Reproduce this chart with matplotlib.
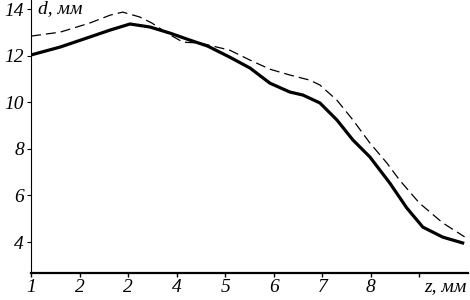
import matplotlib
matplotlib.use("Agg")
import matplotlib.pyplot as plt

# Data
z_solid = [1.00, 1.60, 2.21, 2.63, 3.04, 3.45, 3.86, 4.27, 4.64, 5.09, 5.51, 5.92,
           6.33, 6.60, 6.95, 7.30, 7.63, 7.98, 8.39, 8.74, 9.07, 9.48, 9.89]
d_solid = [12.03, 12.37, 12.80, 13.10, 13.36, 13.23, 12.97, 12.67, 12.41, 11.94, 11.47, 10.82,
           10.44, 10.31, 9.97, 9.24, 8.38, 7.65, 6.53, 5.46, 4.64, 4.21, 3.96]

z_dashed = [1.00, 1.60, 2.21, 2.63, 2.89, 3.24, 3.49, 3.80, 4.13, 4.48, 5.09, 5.51, 5.92,
            6.33, 6.74, 6.95, 7.30, 7.63, 7.98, 8.33, 8.59, 9.00, 9.48, 9.93]
d_dashed = [12.84, 13.01, 13.40, 13.74, 13.87, 13.66, 13.40, 12.97, 12.58, 12.54, 12.24, 11.81, 11.42,
            11.17, 10.95, 10.74, 10.09, 9.24, 8.25, 7.39, 6.66, 5.67, 4.82, 4.22]

x_ticks = [1, 2, 3, 4, 5, 6, 7, 8, 9]
x_tick_labels = ["1", "2", "2", "4", "5", "6", "7", "8", ""]
y_ticks = [4, 6, 8, 10, 12, 14]
y_tick_labels = ["4", "6", "8", "10", "12", "14"]

font = dict(family="Liberation Serif", style="italic", size=14)

fig = plt.figure(figsize=(4.7, 3.0), dpi=100)
ax = fig.add_axes([31 / 470, 27 / 300, 437 / 470, 273 / 300])

ax.plot(z_solid, d_solid, color="black", lw=2.3, solid_joinstyle="round")
ax.plot(z_dashed, d_dashed, color="black", lw=0.9, dashes=(8, 4))

ax.set_xlim(1, 10)
ax.set_ylim(2.67, 14.39)

ax.spines["top"].set_visible(False)
ax.spines["right"].set_visible(False)
ax.spines["bottom"].set_linewidth(1.6)
ax.spines["left"].set_linewidth(0.8)

ax.set_xticks(x_ticks)
ax.set_xticklabels(x_tick_labels, fontdict=font)
ax.set_yticks(y_ticks)
ax.set_yticklabels(y_tick_labels, fontdict=font)
ax.tick_params(axis="x", direction="out", length=3, width=1, pad=1)
ax.tick_params(axis="y", direction="out", length=3, width=0.8, pad=2)

ax.text(0.015, 1.0, "d, мм", transform=ax.transAxes, ha="left", va="top", **font)
fig.text(467 / 470, 5 / 300, "z, мм", ha="right", va="bottom", **font)

fig.savefig("out.png", dpi=100)
